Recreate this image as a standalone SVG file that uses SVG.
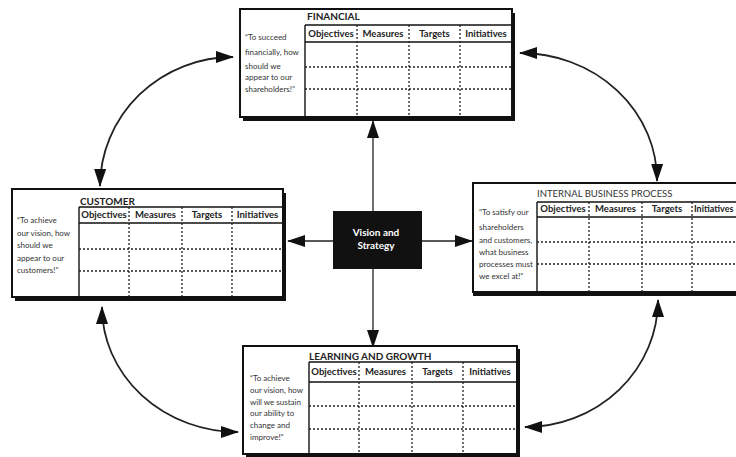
<svg xmlns="http://www.w3.org/2000/svg" width="736" height="457" viewBox="0 0 736 457">
<defs>
<marker id="ah" markerUnits="userSpaceOnUse" markerWidth="18" markerHeight="12" refX="17" refY="6" orient="auto-start-reverse" viewBox="0 0 18 12">
<path d="M0,0 L18,6 L0,12 Z" fill="#111"/>
</marker>
<style>
.box{fill:#fff;stroke:#111;stroke-width:2}
.shadow{fill:#111}
.solid{stroke:#111;stroke-width:1.4;fill:none}
.dot{stroke:#222;stroke-width:1.3;stroke-dasharray:2 2;fill:none}
.title{font-family:Lato,"Open Sans",sans-serif;font-size:10px;font-weight:bold;fill:#222}
.title2{font-family:Lato,"Open Sans",sans-serif;font-size:9.5px;fill:#333}
.hd{font-family:Lato,"Open Sans",sans-serif;font-size:9.5px;font-weight:bold;fill:#222;text-anchor:middle}
.q{font-family:Lato,"Open Sans",sans-serif;font-size:8px;fill:#333}
.conn{stroke:#222;stroke-width:1.3;fill:none}
.curve{stroke:#222;stroke-width:1.8;fill:none}
.vs{font-family:Lato,"Open Sans",sans-serif;font-size:10px;font-weight:bold;fill:#fff;text-anchor:middle}
</style>
</defs>
<rect width="736" height="457" fill="#fff"/>

<g id="connectors">
<line class="conn" x1="373" y1="121" x2="373" y2="347" marker-start="url(#ah)" marker-end="url(#ah)"/>
<line class="conn" x1="288" y1="241" x2="472" y2="241" marker-start="url(#ah)" marker-end="url(#ah)"/>
<path class="curve" d="M100,186 A133,130 0 0 1 233,57" marker-start="url(#ah)" marker-end="url(#ah)"/>
<path class="curve" d="M520,53 A137,127 0 0 1 657,181" marker-start="url(#ah)" marker-end="url(#ah)"/>
<path class="curve" d="M102,307 A136,125 0 0 0 238,432" marker-start="url(#ah)" marker-end="url(#ah)"/>
<path class="curve" d="M658,300 A133,127 0 0 1 525,427" marker-start="url(#ah)" marker-end="url(#ah)"/>
</g>

<g id="financial">
<rect class="shadow" x="243" y="13" width="272" height="108"/>
<rect class="box" x="240" y="9" width="272" height="108"/>
<text class="title" x="307" y="20">FINANCIAL</text>
<line class="solid" x1="305" y1="25" x2="512" y2="25"/>
<line class="solid" x1="305" y1="42" x2="512" y2="42"/>
<line class="solid" x1="305" y1="25" x2="305" y2="117"/>
<line class="dot" x1="357" y1="25" x2="357" y2="117"/>
<line class="dot" x1="409" y1="25" x2="409" y2="117"/>
<line class="dot" x1="460" y1="25" x2="460" y2="117"/>
<line class="dot" x1="305" y1="67" x2="512" y2="67"/>
<line class="dot" x1="305" y1="89" x2="512" y2="89"/>
<text class="hd" x="331" y="37">Objectives</text>
<text class="hd" x="383" y="37">Measures</text>
<text class="hd" x="434.5" y="37">Targets</text>
<text class="hd" x="486" y="37">Initiatives</text>
<text class="q" x="245" y="40">“To succeed</text>
<text class="q" x="245" y="55">financially, how</text>
<text class="q" x="245" y="69">should we</text>
<text class="q" x="245" y="80">appear to our</text>
<text class="q" x="245" y="92">shareholders!”</text>
</g>

<g id="customer">
<rect class="shadow" x="15" y="193" width="271" height="108"/>
<rect class="box" x="12" y="189" width="271" height="108"/>
<text class="title" x="80" y="205">CUSTOMER</text>
<line class="solid" x1="79" y1="207" x2="283" y2="207"/>
<line class="solid" x1="79" y1="223" x2="283" y2="223"/>
<line class="solid" x1="79" y1="207" x2="79" y2="297"/>
<line class="dot" x1="129" y1="207" x2="129" y2="297"/>
<line class="dot" x1="182" y1="207" x2="182" y2="297"/>
<line class="dot" x1="232" y1="207" x2="232" y2="297"/>
<line class="dot" x1="79" y1="249" x2="283" y2="249"/>
<line class="dot" x1="79" y1="271" x2="283" y2="271"/>
<text class="hd" x="104" y="218">Objectives</text>
<text class="hd" x="155.5" y="218">Measures</text>
<text class="hd" x="207" y="218">Targets</text>
<text class="hd" x="257.5" y="218">Initiatives</text>
<text class="q" x="17" y="223">“To achieve</text>
<text class="q" x="17" y="236">our vision, how</text>
<text class="q" x="17" y="248">should we</text>
<text class="q" x="17" y="261">appear to our</text>
<text class="q" x="17" y="273">customers!”</text>
</g>

<g id="internal">
<rect class="shadow" x="473" y="187" width="270" height="109"/>
<rect class="box" x="473" y="183" width="270" height="109"/>
<text class="title2" x="537" y="197">INTERNAL BUSINESS PROCESS</text>
<line class="solid" x1="537" y1="202" x2="740" y2="202"/>
<line class="solid" x1="537" y1="217" x2="740" y2="217"/>
<line class="solid" x1="537" y1="202" x2="537" y2="292"/>
<line class="dot" x1="589" y1="202" x2="589" y2="292"/>
<line class="dot" x1="642" y1="202" x2="642" y2="292"/>
<line class="dot" x1="692" y1="202" x2="692" y2="292"/>
<line class="dot" x1="537" y1="242" x2="740" y2="242"/>
<line class="dot" x1="537" y1="264" x2="740" y2="264"/>
<text class="hd" x="563" y="212">Objectives</text>
<text class="hd" x="615.5" y="212">Measures</text>
<text class="hd" x="667" y="212">Targets</text>
<text class="hd" x="694" y="212" style="text-anchor:start;font-size:9px">Initiatives</text>
<text class="q" x="479" y="215">“To satisfy our</text>
<text class="q" x="479" y="230">shareholders</text>
<text class="q" x="479" y="243">and customers,</text>
<text class="q" x="479" y="255">what business</text>
<text class="q" x="479" y="267">processes must</text>
<text class="q" x="479" y="279">we excel at!”</text>
</g>

<g id="learning">
<rect class="shadow" x="246" y="349" width="274" height="109"/>
<rect class="box" x="243" y="346" width="274" height="108"/>
<text class="title" x="309" y="360">LEARNING AND GROWTH</text>
<line class="solid" x1="309" y1="362" x2="517" y2="362"/>
<line class="solid" x1="309" y1="382" x2="517" y2="382"/>
<line class="solid" x1="309" y1="362" x2="309" y2="454"/>
<line class="dot" x1="359" y1="362" x2="359" y2="454"/>
<line class="dot" x1="412" y1="362" x2="412" y2="454"/>
<line class="dot" x1="463" y1="362" x2="463" y2="454"/>
<line class="dot" x1="309" y1="406" x2="517" y2="406"/>
<line class="dot" x1="309" y1="429" x2="517" y2="429"/>
<text class="hd" x="334" y="375">Objectives</text>
<text class="hd" x="385.5" y="375">Measures</text>
<text class="hd" x="437.5" y="375">Targets</text>
<text class="hd" x="490" y="375">Initiatives</text>
<text class="q" x="250" y="381">“To achieve</text>
<text class="q" x="250" y="393">our vision, how</text>
<text class="q" x="250" y="405">will we sustain</text>
<text class="q" x="250" y="416">our ability to</text>
<text class="q" x="250" y="428">change and</text>
<text class="q" x="250" y="440">improve!”</text>
</g>

<g id="vision">
<rect x="333" y="211" width="89" height="58" fill="#111"/>
<text class="vs" x="376" y="236">Vision and</text>
<text class="vs" x="376" y="249">Strategy</text>
</g>
</svg>
